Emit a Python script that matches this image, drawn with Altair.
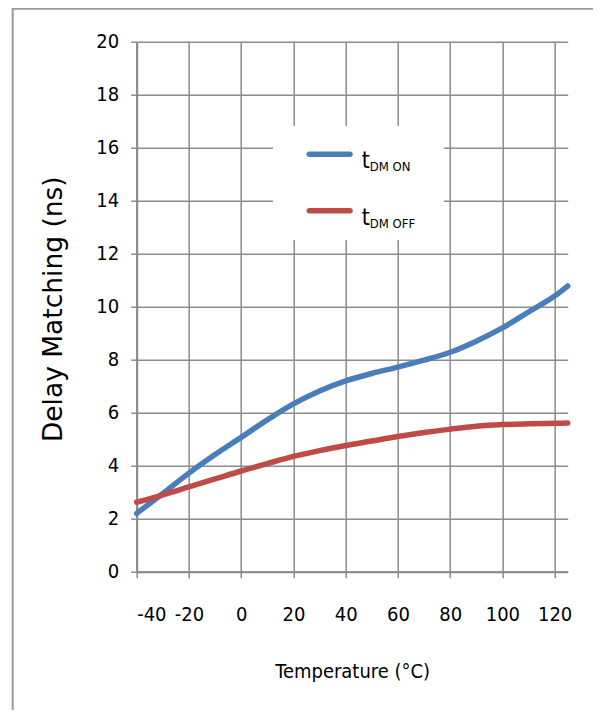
import altair as alt
import pandas as pd

# ---- data ----
temps = [-40, -30, -20, -10, 0, 10, 20, 30, 40, 50, 60, 70, 80, 90, 100, 110, 120, 125]
t_dm_on = [2.2, 2.95, 3.72, 4.42, 5.07, 5.73, 6.33, 6.82, 7.2, 7.48, 7.72, 7.98, 8.28, 8.7, 9.2, 9.8, 10.4, 10.78]
t_dm_off = [2.62, 2.9, 3.2, 3.5, 3.8, 4.08, 4.35, 4.57, 4.76, 4.93, 5.1, 5.25, 5.38, 5.49, 5.55, 5.58, 5.6, 5.61]
series_names = ["ON", "OFF"]
series_colors = ["#4A7EBB", "#BE4B48"]
x_ticks = [-40, -20, 0, 20, 40, 60, 80, 100, 120]
y_ticks = [0, 2, 4, 6, 8, 10, 12, 14, 16, 18, 20]
legend_sub = ["DM ON", "DM OFF"]

df = pd.DataFrame(
    {"T": temps * 2,
     "v": t_dm_on + t_dm_off,
     "s": ["ON"] * len(temps) + ["OFF"] * len(temps)}
)
one = pd.DataFrame({"a": [0]})

W, H = 431, 530
TICK_FONT = "DejaVu Sans Condensed, Liberation Sans Narrow, Liberation Sans, sans-serif"
GRID = "#8C8C8C"

lines = alt.Chart(df).mark_line(strokeWidth=5.5, strokeCap="round", interpolate="monotone").encode(
    x=alt.X("T:Q", scale=alt.Scale(domain=[-40, 125], nice=False, zero=False),
            axis=alt.Axis(values=x_ticks, title="Temperature (°C)", titleX=W / 2, titleY=105.5,
                          titleBaseline="alphabetic", labelPadding=27, labelOverlap=False,
                          labelExpr="replace(datum.label, '−', '-')")),
    y=alt.Y("v:Q", scale=alt.Scale(domain=[0, 20], nice=False),
            axis=alt.Axis(values=y_ticks, title="Delay Matching (ns)", titleFont="DejaVu Sans",
                          titleFontSize=26.5, titleFontWeight="normal", titleX=-82.7, titleY=H / 2 + 2,
                          titleAngle=270, titleBaseline="middle", titleAlign="center", labelPadding=12,
                          labelOverlap=False)),
    color=alt.Color("s:N", scale=alt.Scale(domain=series_names, range=series_colors), legend=None),
    detail="s:N",
)

border = alt.Chart(one).mark_rect(fillOpacity=0, stroke="#9A9A9A", strokeWidth=2).encode(
    x=alt.value(-124), x2=alt.value(700), y=alt.value(-33), y2=alt.value(900)
)

legend_box = alt.Chart(one).mark_rect(fill="white").encode(
    x=alt.value(136.3), x2=alt.value(307.3), y=alt.value(84.3), y2=alt.value(198.3)
)

legend_layers = []
ly = [112.6, 169.0]
for i, name in enumerate(series_names):
    legend_layers.append(
        alt.Chart(one).mark_rule(strokeWidth=5.5, strokeCap="round", color=series_colors[i]).encode(
            x=alt.value(172.6), x2=alt.value(213.3), y=alt.value(ly[i]), y2=alt.value(ly[i])
        )
    )
    legend_layers.append(
        alt.Chart(one).mark_text(font=TICK_FONT, fontSize=23, align="left", baseline="alphabetic",
                                 color="black").encode(
            x=alt.value(225), y=alt.value(ly[i] + 14), text=alt.value("t")
        )
    )
    legend_layers.append(
        alt.Chart(one).mark_text(font=TICK_FONT, fontSize=13, align="left", baseline="alphabetic",
                                 color="black").encode(
            x=alt.value(233), y=alt.value(ly[i] + 17), text=alt.value(legend_sub[i])
        )
    )

chart = alt.layer(border, lines, legend_box, *legend_layers).properties(
    width=W, height=H,
    autosize=alt.AutoSizeParams(type="none"),
    padding={"left": 128.7, "top": 33.7, "right": 25, "bottom": 138},
    background="white",
).configure_view(stroke=None).configure_axis(
    labelFont=TICK_FONT, labelFontSize=20, labelColor="black",
    titleFont=TICK_FONT, titleFontSize=20, titleColor="black", titleFontWeight="normal",
    domainColor="#868686", domainWidth=2,
    gridColor=GRID, gridWidth=1.5,
    tickColor=GRID, tickWidth=1.5, tickSize=6,
)

chart.save("out.html", embed_options={"renderer": "svg", "actions": False})
